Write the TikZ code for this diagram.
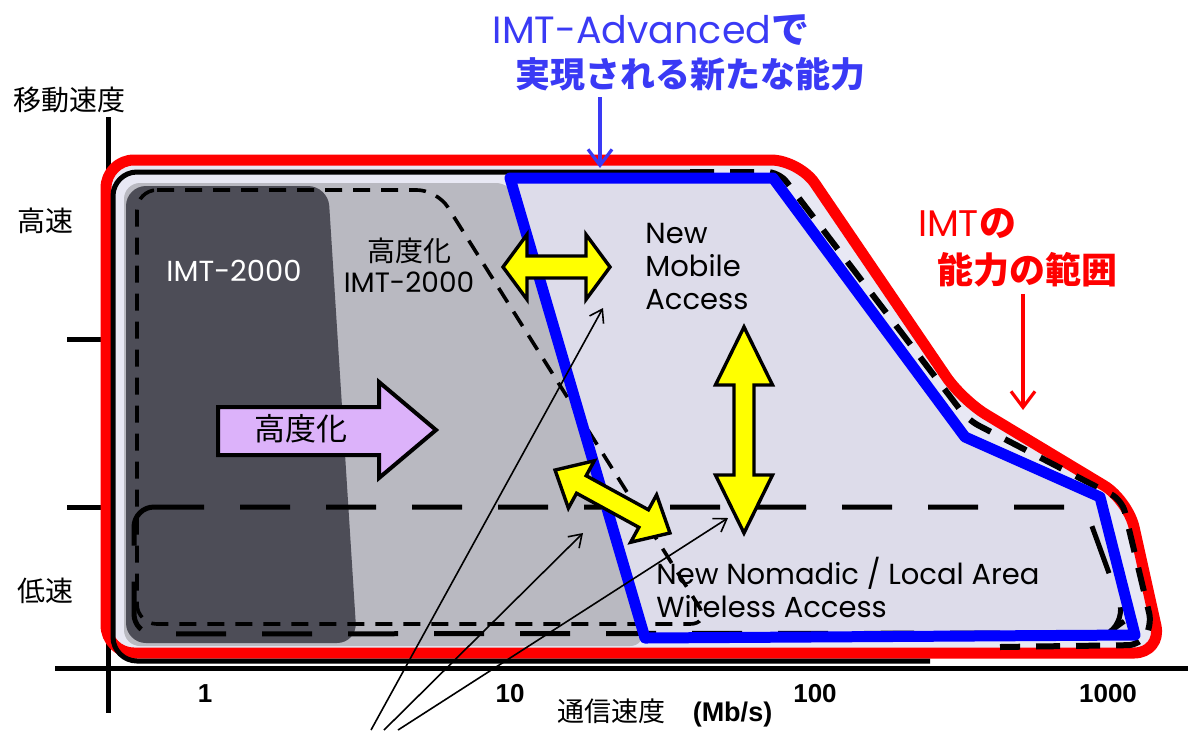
\documentclass[tikz,border=0pt]{standalone}
\usepackage{fontspec}
\usepackage{xcolor}
\usepackage{tikz}
\usetikzlibrary{arrows.meta,positioning,calc}
\newfontfamily\jpfont{Noto Sans CJK JP}
\newfontfamily\geofont{Poppins}
\newfontfamily\numfont{Liberation Sans}
\definecolor{CapRed}{HTML}{FF0000}
\definecolor{AdvBlue}{HTML}{0000FF}
\definecolor{AdvText}{HTML}{3A3AF5}
\definecolor{ZoneBack}{HTML}{E8E8F4}
\definecolor{ZoneNew}{HTML}{DDDCEA}
\definecolor{ZoneEnh}{HTML}{B9B9C1}
\definecolor{ZoneBase}{HTML}{4D4D57}
\definecolor{ArrYellow}{HTML}{FFFF00}
\definecolor{ArrViolet}{HTML}{DCB2FA}

% yellow double arrow: half length / head half width / head length / shaft half width
\tikzset{
  pics/dblarrow/.style args={#1/#2/#3/#4}{code={
    \draw[yarrow] (-#1,0) -- ({-#1+#3},#2) -- ({-#1+#3},#4) -- ({#1-#3},#4)
      -- ({#1-#3},#2) -- (#1,0) -- ({#1-#3},-#2) -- ({#1-#3},-#4)
      -- ({-#1+#3},-#4) -- ({-#1+#3},-#2) -- cycle;
  }}
}

\begin{document}
\begin{tikzpicture}[x=0.5pt,y=-0.5pt,
  axisline/.style={line width=2.5pt},
  capline/.style={draw=CapRed, line width=5.5pt, rounded corners=14pt, line join=round},
  advline/.style={draw=AdvBlue, line width=5.5pt, line join=round},
  outline/.style={line width=2.5pt, rounded corners=12pt},
  enhdash/.style={line width=1.8pt, dash pattern=on 8.5pt off 5.5pt, rounded corners=10pt},
  nomdash/.style={line width=2.5pt, dash pattern=on 25pt off 18pt, rounded corners=10pt},
  yarrow/.style={fill=ArrYellow, draw=black, line width=1.7pt, line join=miter},
  varrow/.style={fill=ArrViolet, draw=black, line width=2pt, line join=miter},
  pointer/.style={line width=0.8pt, -{Straight Barb[length=6pt,width=8pt]}},
  jplab/.style={font=\jpfont\fontsize{14}{16}\selectfont, inner sep=0pt},
  scalelab/.style={font=\numfont\bfseries\fontsize{13}{15}\selectfont, inner sep=0pt},
  zone/.style={font=\geofont\fontsize{14.5}{16.5}\selectfont, inner sep=0pt, align=left}]
  \useasboundingbox (0,0) rectangle (1188,730);

  % axes and ticks
  \draw[axisline] (108,117) -- (108,713);
  \draw[axisline] (55,668) -- (1188,668);
  \draw[axisline] (67,339) -- (108,339);
  \draw[axisline] (67,507) -- (108,507);

  % capability range of IMT
  \draw[capline, fill=ZoneBack] (106,653) -- (106,160) -- (799,160) -- (962,400)
    -- (1128,500) -- (1162,653) -- cycle;
  \fill[ZoneEnh, rounded corners=8pt] (124,183) -- (512,183) -- (646,646) -- (124,646) -- cycle;
  \fill[ZoneBase, rounded corners=10pt] (126,186) -- (328,186) -- (357,643) -- (126,643) -- cycle;
  \fill[ZoneNew] (510,178) -- (773,178) -- (965,437) -- (1100,497) -- (1135,635) -- (645,638) -- cycle;

  \draw[outline] (930,661) -- (113,661) -- (113,172) -- (690,172);
  \draw[line width=3pt, dash pattern=on 12pt off 8pt, rounded corners=6pt]
    (690,172) -- (779,172) -- (968,420) -- (1122,500) -- (1152,625) -- (1140,645) -- (1000,647);

  % enhanced IMT-2000 and nomadic areas
  \draw[enhdash] (137,190) -- (437,190) -- (710,624) -- (137,624) -- cycle;
  \draw[nomdash] (134,507) -- (1085,507) -- (1126,620) -- (1108,633) -- (134,634) -- cycle;

  % new capabilities of IMT-Advanced
  \draw[advline] (510,178) -- (773,178) -- (965,437) -- (1100,497) -- (1135,635) -- (645,638) -- cycle;

  % arrows
  \pic at (556.5,267) {dblarrow={53.5/32.5/24/11}};
  \pic[rotate=90] at (744,430) {dblarrow={103/28.5/58/10}};
  \pic[rotate=-28.7] at (612.5,501.5) {dblarrow={65.5/27/30/10}};
  \draw[varrow] (218,407) -- (379,407) -- (379,382) -- (436,430) -- (379,478)
    -- (379,455) -- (218,455) -- cycle;
  \node[jplab, font=\jpfont\fontsize{15.5}{17}\selectfont] (up) at (301,429) {高度化};

  % areas
  \node[zone, text=white, align=center] (base) at (234,271) {IMT-2000};
  \node[zone, align=center, font=\geofont\fontsize{14}{15.5}\selectfont] (enh) at (409,265)
    {{\jpfont 高度化}\\IMT-2000};
  \node[zone, anchor=north west] (mob) at (645,223) {New\\Mobile\\Access};
  \node[zone, anchor=north west] (nom) at (656,557) {New Nomadic / Local Area\\Wireless Access};

  % axis labels
  \node[jplab] (vlab) at (69,100) {移動速度};
  \node[jplab] (hi) at (46,221) {高速};
  \node[jplab] (lo) at (46,591) {低速};
  \node[scalelab] (s1) at (205,694) {1};
  \node[scalelab] (s10) at (510,694) {10};
  \node[scalelab] (s100) at (815,694) {100};
  \node[scalelab] (s1000) at (1108,694) {1000};
  \node[jplab, font=\jpfont\fontsize{13.5}{15}\selectfont] (hlab) at (665,713)
    {通信速度　{\numfont\bfseries (Mb/s)}};

  % titles
  \node[font=\geofont\fontsize{19}{22}\selectfont, text=AdvText, inner sep=0pt] (adv) at (651,30)
    {IMT-Advanced{\jpfont\bfseries で}};
  \node[font=\jpfont\bfseries\fontsize{17.5}{20}\selectfont, text=AdvText, inner sep=0pt] (advnew)
    at (690,74) {実現される新たな能力};
  \coordinate (advtip) at (600,168);
  \draw[AdvText, line width=1.6pt, -{Straight Barb[length=8pt,width=12pt]}, shorten <=3pt]
    (advnew.south -| advtip) -- (advtip);

  \node[font=\geofont\fontsize{18.5}{21}\selectfont, text=CapRed, inner sep=0pt] (imt) at (967,224)
    {IMT{\jpfont\bfseries の}};
  \node[font=\jpfont\bfseries\fontsize{18}{21}\selectfont, text=CapRed, inner sep=0pt] (cap)
    at (1027,270) {能力の範囲};
  \coordinate (captip) at (1023,410);
  \draw[CapRed, line width=1.6pt, -{Straight Barb[length=8pt,width=12pt]}, shorten <=3pt]
    (cap.south -| captip) -- (captip);

  % pointers
  \coordinate (src1) at (371,730);
  \coordinate (src2) at (384,730);
  \coordinate (src3) at (398,730);
  \coordinate (tgmob) at (603,308);
  \coordinate (tgenh) at (583,533);
  \coordinate (tgnom) at (728,518);
  \draw[pointer] (src1) -- (tgmob);
  \draw[pointer] (src2) -- (tgenh);
  \draw[pointer] (src3) -- (tgnom);
\end{tikzpicture}
\end{document}
